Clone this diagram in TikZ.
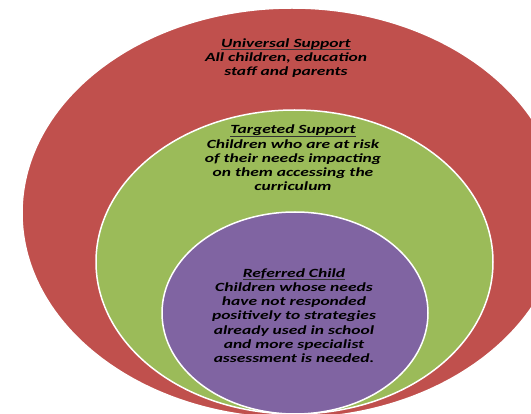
\documentclass[tikz,border=0pt]{standalone}
\usepackage{fontspec}
\setmainfont{Carlito}[FakeStretch=1.4]
\usepackage{xcolor}
\usepackage{tikz}
\usetikzlibrary{positioning, shapes.geometric}

\definecolor{univred}{HTML}{C0504D}
\definecolor{targgreen}{HTML}{9BBB59}
\definecolor{refpurple}{HTML}{8064A2}

% underlined heading
\newcommand{\levelhead}[1]{\setbox0\hbox{#1}\leavevmode\rlap{\textcolor{black!80}{\rule[-2.8pt]{\wd0}{1.2pt}}}\box0}

\begin{document}
\begin{tikzpicture}[
  x=1pt, y=-1pt,
  level/.style={
    ellipse,
    draw=white,
    line width=1.5pt,
    fill=#1,
    inner sep=0pt
  },
  caption/.style={
    font=\fontsize{12.5}{14.2}\selectfont\bfseries\itshape,
    align=center,
    text=black
  }
]
\useasboundingbox (0,0) rectangle (531,414);
\clip (0,0) rectangle (531,414);

% Nested support levels
\node[level=univred, minimum width=540pt, minimum height=410pt] (universal) at (292,213) {};
\node[level=targgreen, minimum width=397pt, minimum height=304pt] (targeted) at (294.5,262) {};
\node[level=refpurple, minimum width=266pt, minimum height=202pt] (referred) at (295,313) {};

% Labels
\node[caption] (universaltext) at (286,58) {\levelhead{Universal Support}\\All children, education\\staff and parents};
\node[caption] (targetedtext) at (293,158) {\levelhead{Targeted Support}\\Children who are at risk\\of their needs impacting\\on them accessing the\\curriculum};
\node[caption] (referredtext) at (294,315.5) {\levelhead{Referred Child}\\Children whose needs\\have not responded\\positively to strategies\\already used in school\\and more specialist\\assessment is needed.};
\end{tikzpicture}
\end{document}
